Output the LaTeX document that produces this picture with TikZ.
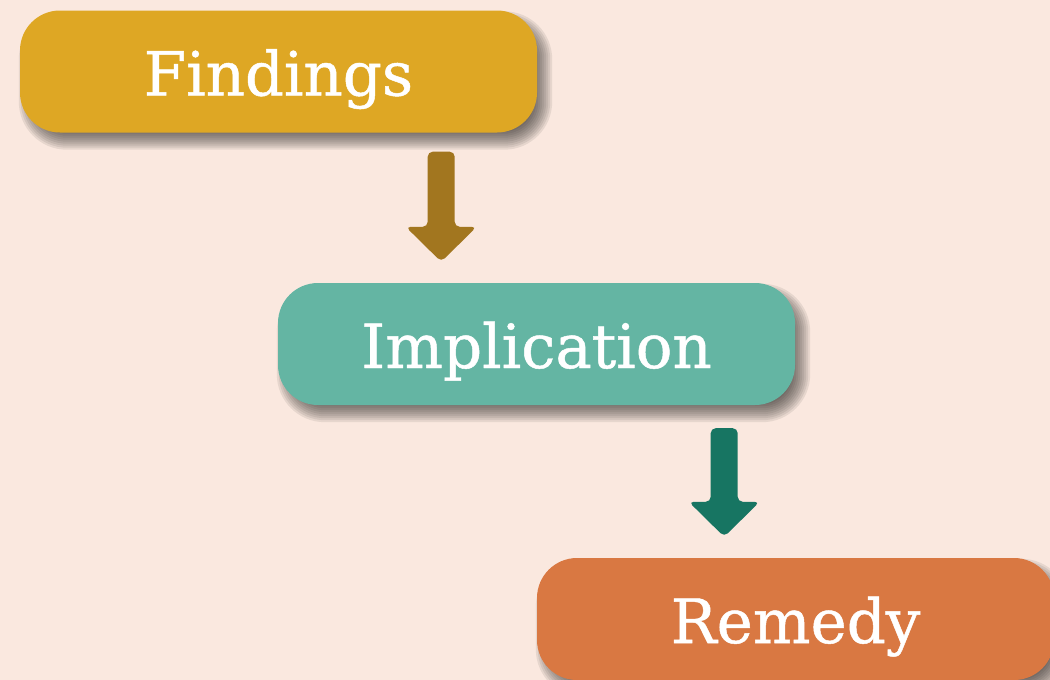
\documentclass[tikz,border=0pt]{standalone}
\usepackage{fontspec}
\setmainfont{DejaVu Serif}[FakeBold=0.8]
\usetikzlibrary{calc}
\pgfdeclarelayer{bglayer}
\pgfdeclarelayer{shadowlayer}
\pgfsetlayers{bglayer,shadowlayer,main}
\definecolor{bgc}{HTML}{FAE8DF}
\definecolor{findc}{HTML}{DEA724}
\definecolor{implc}{HTML}{64B5A3}
\definecolor{remc}{HTML}{D97842}
\definecolor{arrA}{HTML}{A2761F}
\definecolor{arrB}{HTML}{177562}
\tikzset{
  stagebox/.style={rounded corners=40pt, minimum width=517pt, minimum height=122pt,
    inner sep=0pt, text=white, font=\fontsize{61}{61}\selectfont,
    text height=48pt, text depth=0pt},
  blockarrow/.style={rounded corners=5pt},
  softshade/.style={fill=black!85!bgc, fill opacity=0.09}
}
\newcommand{\boxshadow}[1]{%
  \begin{pgfonlayer}{shadowlayer}
  \foreach \d in {-10,-8,-6,-4,-2,0,2,4,6,8}{
    \fill[softshade, rounded corners={40pt+\d pt}]
      ($(#1.north west)+(7-\d,9-\d)$) rectangle ($(#1.south east)+(7+\d,9+\d)$);
  }
  \end{pgfonlayer}}
\begin{document}
\begin{tikzpicture}[x=1pt,y=-1pt]
\begin{pgfonlayer}{bglayer}
\fill[bgc] (0,0) rectangle (1050,680);
\end{pgfonlayer}
\useasboundingbox (0,0) rectangle (1050,680);
\clip (0,0) rectangle (1050,680);
\node[stagebox, fill=findc] (F) at (278.5,71.5) {Findings};
\node[stagebox, fill=implc] (I) at (536.5,344) {Implication};
\node[stagebox, fill=remc] (R) at (795.5,619) {Remedy};
\boxshadow{F}
\boxshadow{I}
\boxshadow{R}
\path (F.south east) ++(-96,19) coordinate (a1s);
\path (I.north west) ++(163,-21) coordinate (a1e);
\path (I.south east) ++(-71,23) coordinate (a2s);
\path (R.north west) ++(187,-21) coordinate (a2e);
\fill[arrA, blockarrow] let \p1=(a1s), \p2=(a1e) in
  (\x1-13.5pt,\y1) -- (\x1+13.5pt,\y1) -- (\x1+13.5pt,\y2+35pt) -- (\x1+35.5pt,\y2+35pt)
  -- (\x1,\y2) -- (\x1-35.5pt,\y2+35pt) -- (\x1-13.5pt,\y2+35pt) -- cycle;
\fill[arrB, blockarrow] let \p1=(a2s), \p2=(a2e) in
  (\x1-13.5pt,\y1) -- (\x1+13.5pt,\y1) -- (\x1+13.5pt,\y2+35pt) -- (\x1+35.5pt,\y2+35pt)
  -- (\x1,\y2) -- (\x1-35.5pt,\y2+35pt) -- (\x1-13.5pt,\y2+35pt) -- cycle;
\end{tikzpicture}
\end{document}
